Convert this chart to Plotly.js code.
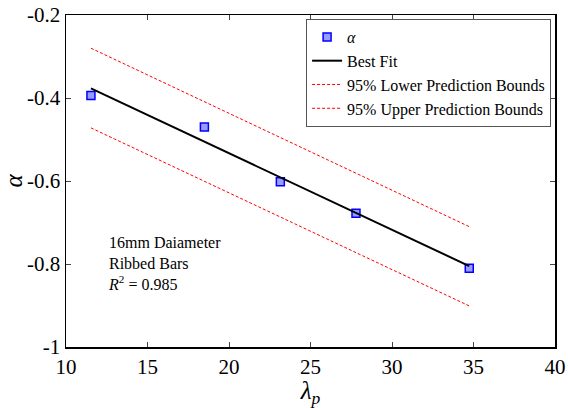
<!DOCTYPE html>
<html>
<head>
<meta charset="utf-8">
<script src="https://cdn.plot.ly/plotly-3.0.1.min.js"></script>
<style>html,body{margin:0;padding:0;background:#fff;}#chart{width:568px;height:408px;}</style>
</head>
<body>
<div id="chart"></div>
<script>
// Data
const lambdaP = [11.53, 18.49, 23.15, 27.79, 34.74];
const alphaVals = [-0.394, -0.470, -0.602, -0.678, -0.810];
const fitX = [11.53, 34.74];
const fitY = [-0.377, -0.805];
const lowerY = [-0.472, -0.901];
const upperY = [-0.280, -0.710];
const xTicks = [10, 15, 20, 25, 30, 35, 40];
const yTicks = [-1, -0.8, -0.6, -0.4, -0.2];
const yTickText = ['-1', '-0.8', '-0.6', '-0.4', '-0.2'];

const serif = '"Liberation Serif", "Times New Roman", Times, serif';

const traces = [
  {x: lambdaP, y: alphaVals, mode: 'markers', name: '<i>α</i>',
   marker: {symbol: 'square', size: 8, color: '#9a9aff', line: {color: '#0000ff', width: 1.5}}},
  {x: fitX, y: fitY, mode: 'lines', name: 'Best Fit',
   line: {color: '#000000', width: 2}},
  {x: fitX, y: lowerY, mode: 'lines', name: '95% Lower Prediction Bounds',
   line: {color: '#ff0000', width: 1, dash: '3px,2px'}},
  {x: fitX, y: upperY, mode: 'lines', name: '95% Upper Prediction Bounds',
   line: {color: '#ff0000', width: 1, dash: '3px,2px'}}
];

const layout = {
  width: 568, height: 408,
  margin: {l: 66, r: 13, t: 15, b: 61},
  paper_bgcolor: '#ffffff', plot_bgcolor: '#ffffff',
  font: {family: serif, color: '#000', size: 19},
  showlegend: true,
  legend: {x: 0.992, y: 0.988, xanchor: 'right', yanchor: 'top',
           bgcolor: '#ffffff', bordercolor: '#555555', borderwidth: 1,
           font: {family: serif, size: 16, color: '#000'}, tracegroupgap: 0, itemwidth: 30},
  xaxis: {range: [10, 40], tickvals: xTicks, ticks: 'inside', ticklen: 5,
          mirror: 'ticks', showline: true, linecolor: '#000', linewidth: 1.5,
          showgrid: false, zeroline: false, tickfont: {size: 21, family: serif, color: '#000'},
          title: {text: '<i>λ</i><sub><i>p</i></sub>', font: {size: 25, family: serif, color: '#000'}, standoff: 0}},
  yaxis: {range: [-1, -0.2], tickvals: yTicks, ticktext: yTickText, ticks: 'inside', ticklen: 5,
          mirror: 'ticks', showline: true, linecolor: '#000', linewidth: 1.5,
          showgrid: false, zeroline: false, tickfont: {size: 21, family: serif, color: '#000'},
          title: {text: '<i>α</i>', font: {size: 25, family: serif, color: '#000'}, standoff: 2}},
  annotations: [{
    xref: 'paper', yref: 'paper', x: 0.082, y: 0.345, xanchor: 'left', yanchor: 'top',
    align: 'left', showarrow: false,
    text: '16mm Daiameter<br>Ribbed Bars<br><i>R</i><sup>2</sup> = 0.985',
    font: {family: serif, size: 16, color: '#000'}
  }]
};

Plotly.newPlot('chart', traces, layout, {displayModeBar: false, staticPlot: true});
</script>
</body>
</html>
